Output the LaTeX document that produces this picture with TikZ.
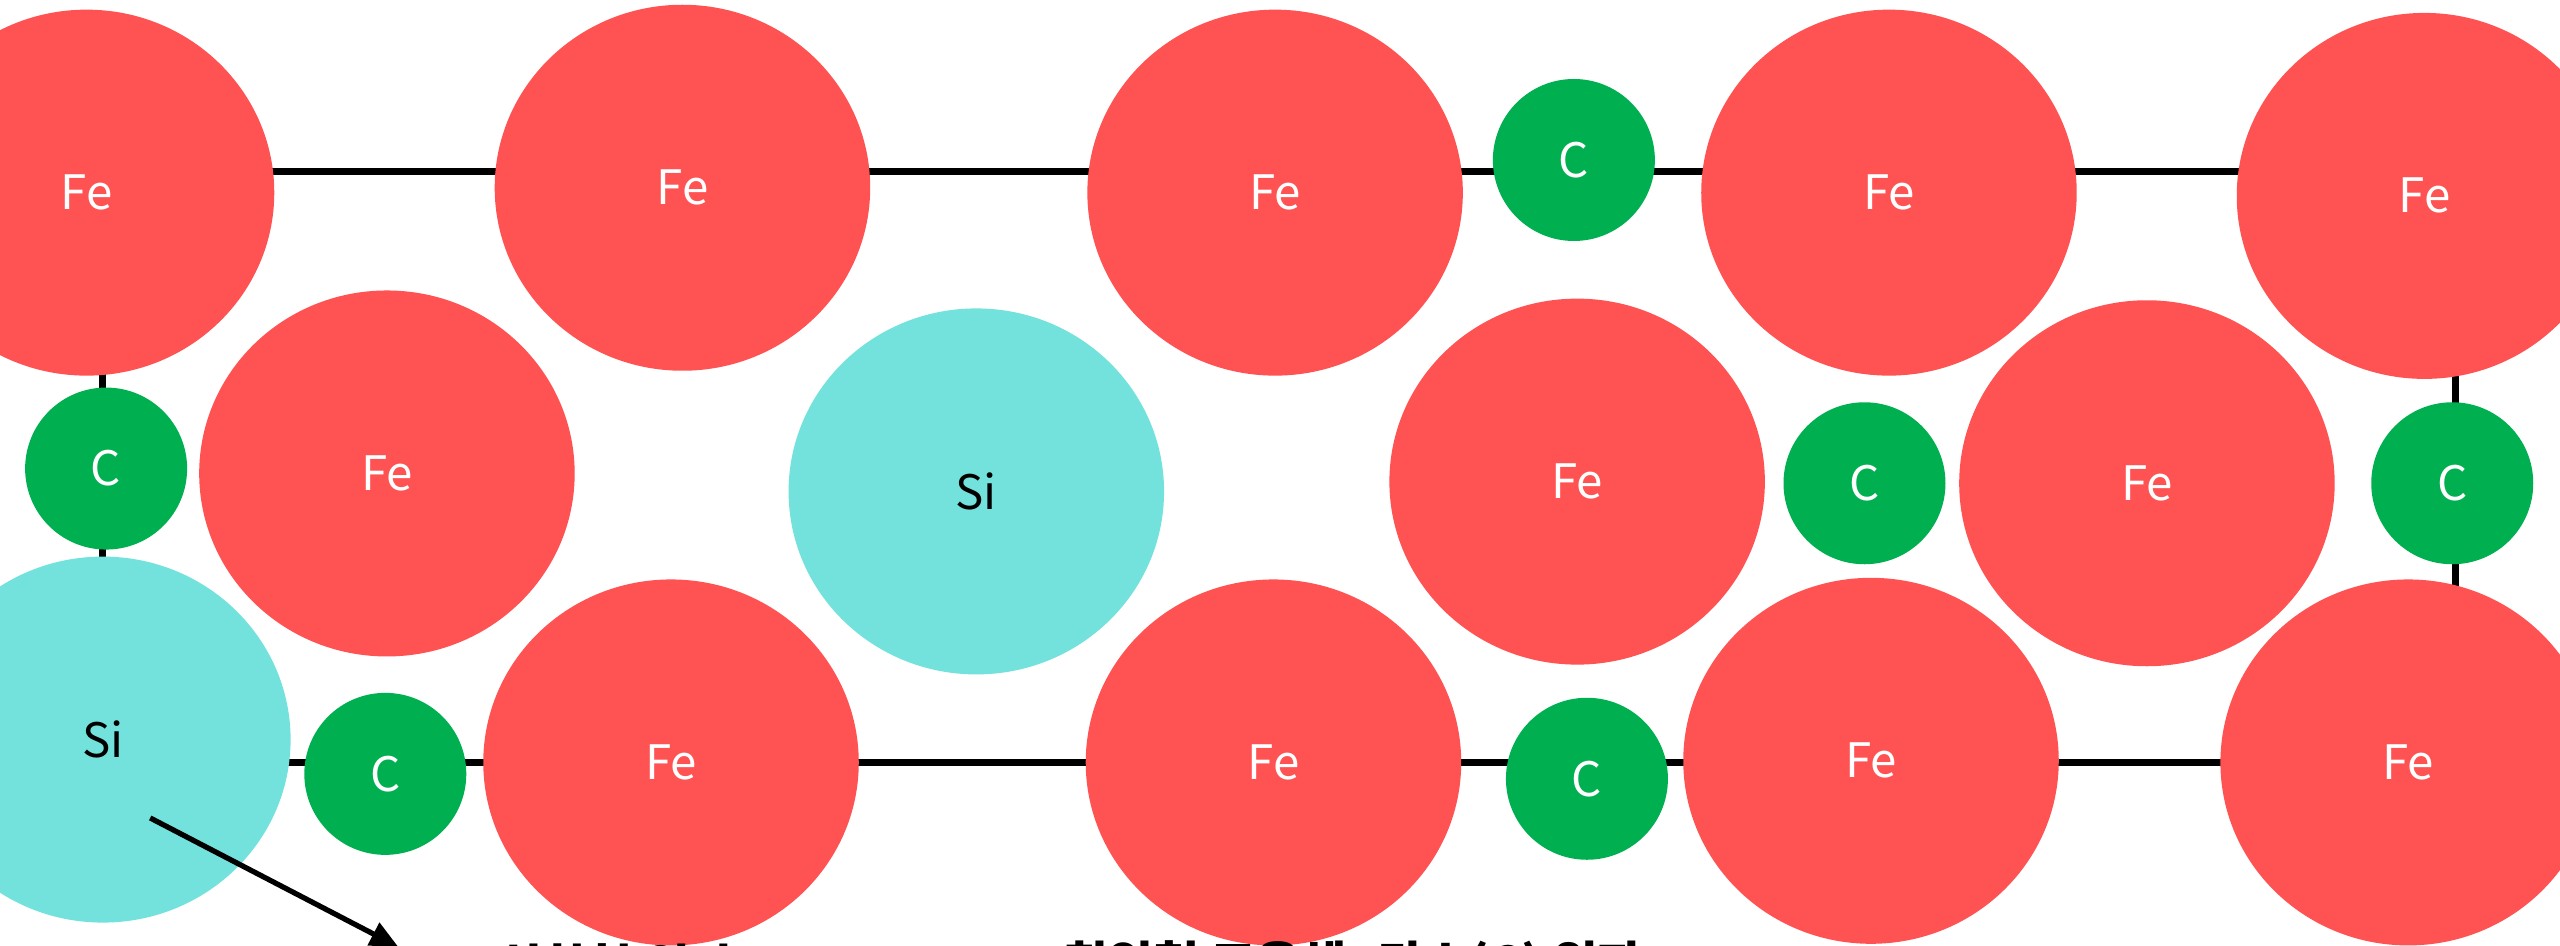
\documentclass[tikz,border=0pt]{standalone}
\usepackage{fontspec}
\newfontfamily\kr{Noto Sans CJK KR}
\usetikzlibrary{shapes.geometric,arrows.meta}
\definecolor{feRed}{HTML}{FF5252}
\definecolor{siCyan}{HTML}{73E2DC}
\definecolor{cGreen}{HTML}{00B050}
\pgfdeclarelayer{bg}
\pgfsetlayers{bg,main}
\tikzset{
  atom/.style={ellipse, inner sep=0pt, font=\kr\fontsize{13.5}{15}\selectfont},
  fe/.style={atom, fill=feRed, text=white, minimum width=3.755cm, minimum height=3.66cm},
  si/.style={atom, fill=siCyan, text=black, minimum width=3.755cm, minimum height=3.66cm},
  carbon/.style={atom, fill=cGreen, text=white, minimum width=1.62cm, minimum height=1.62cm},
  bond/.style={draw=black, line width=0.4pt},
  cell/.style={draw=black, line width=2pt},
  pointer/.style={draw=black, line width=1.5pt, -{Triangle[length=8pt,width=7pt]}},
  caption/.style={font=\kr\bfseries\fontsize{14}{16}\selectfont, text=black, inner sep=0pt}
}
\begin{document}
\begin{tikzpicture}[x=0.016327cm, y=-0.016327cm]
  \useasboundingbox (0,0) rectangle (1568,579);
  \clip (0,0) rectangle (1568,579);
  \fill[white] (0,0) rectangle (1568,579);

  % unit cell frame
  \coordinate (tl) at (63,105);
  \coordinate (br) at (1504,467);
  \draw[cell] (tl) rectangle (br);

  % top row
  \node[fe] (fe1) at (53,118) {Fe};
  \node[fe] (fe2) at (418,115) {Fe};
  \node[fe] (fe3) at (781,118) {Fe};
  \node[fe] (fe4) at (1157,118) {Fe};
  \node[fe] (fe5) at (1485,120) {Fe};
  % middle row
  \node[fe] (fe6) at (237,290) {Fe};
  \node[si] (si7) at (598,301) {Si};
  \node[fe] (fe8) at (966,295) {Fe};
  \node[fe] (fe9) at (1315,296) {Fe};
  % bottom row
  \node[si] (si10) at (63,453) {Si};
  \node[fe] (fe11) at (411,467) {Fe};
  \node[fe] (fe12) at (780,467) {Fe};
  \node[fe] (fe13) at (1146,466) {Fe};
  \node[fe] (fe14) at (1475,467) {Fe};
  % interstitial carbon
  \node[carbon] (c1) at (964,98) {C};
  \node[carbon] (c2) at (65,287) {C};
  \node[carbon] (c3) at (1142,296) {C};
  \node[carbon] (c4) at (1502,296) {C};
  \node[carbon] (c5) at (236,474) {C};
  \node[carbon] (c6) at (972,477) {C};

  % thin bonds between diagonal neighbours
  \begin{pgfonlayer}{bg}
    \draw[bond] (fe1) -- (fe6);
    \draw[bond] (fe6) -- (fe2);
    \draw[bond] (fe6) -- (si10);
    \draw[bond] (fe6) -- (fe11);
    \draw[bond] (fe2) -- (si7);
    \draw[bond] (si7) -- (fe3);
    \draw[bond] (si7) -- (fe11);
    \draw[bond] (si7) -- (fe12);
    \draw[bond] (fe3) -- (fe8);
    \draw[bond] (fe8) -- (fe4);
    \draw[bond] (fe8) -- (fe12);
    \draw[bond] (fe8) -- (fe13);
    \draw[bond] (fe4) -- (fe9);
    \draw[bond] (fe9) -- (fe5);
    \draw[bond] (fe9) -- (fe13);
    \draw[bond] (fe9) -- (fe14);
  \end{pgfonlayer}

  % captions below the lattice
  \node[caption, anchor=north west] (lbl1) at (304,577.5) {치환형 원자};
  \node[caption, anchor=north west] (lbl2) at (651,576) {침입형 고용체: 탄소(C) 원자};

  % pointer from the silicon atom
  \coordinate (ptail) at (92,501);
  \coordinate (ptip) at (244,580);
  \draw[pointer] (ptail) -- (ptip);
\end{tikzpicture}
\end{document}
